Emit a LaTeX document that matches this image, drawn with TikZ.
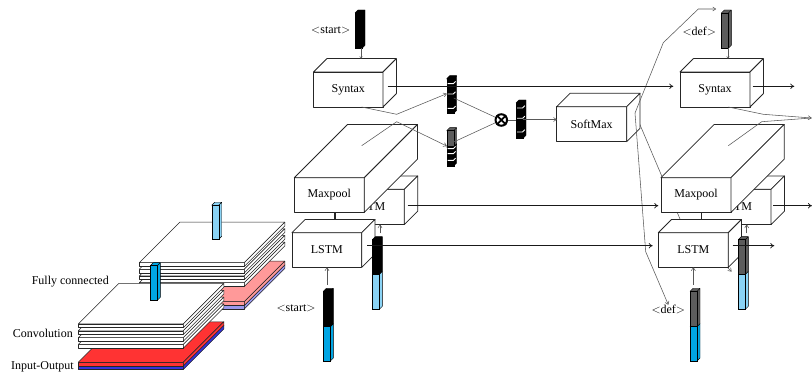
\documentclass[tikz,border=0pt]{standalone}
\usepackage{fontspec}
\setmainfont{Liberation Serif}
\usetikzlibrary{arrows.meta,calc}
\definecolor{cdark}{HTML}{00A5E3}
\definecolor{clight}{HTML}{8AD3F5}
\definecolor{cgray}{HTML}{5C5C5C}
\definecolor{cred}{HTML}{FF3333}
\definecolor{cblue}{HTML}{3333DD}
\definecolor{cpink}{HTML}{FF9999}
\definecolor{cperi}{HTML}{9999EE}
\tikzset{
  edge/.style={draw=black!85,line width=0.75pt,line join=round},
  plateedge/.style={draw=black!85,line width=0.5pt,line join=round},
  cubefront/.style={edge,fill=white,rectangle,inner sep=0pt,outer sep=0pt,font=\fontsize{12}{12}\selectfont},
  barfront/.style={draw=black,line width=0.4pt,rectangle,inner sep=0pt,outer sep=0pt,minimum width=7pt},
  wire/.style={draw=black!65,line width=0.55pt,-{To[length=3.5pt,width=4.5pt]}},
  wirefree/.style={draw=black!65,line width=0.55pt},
  flow/.style={draw=black!90,line width=0.7pt,-{To[length=4pt,width=5.5pt]}},
  lbl/.style={font=\fontsize{12}{12}\selectfont,inner sep=0pt},
}
% name, x, y, w, h, depth, text
\newcommand\cubebox[7]{%
  \node[cubefront,minimum width=#4pt,minimum height=#5pt] (#1) at ({#2+#4/2},{#3+#5/2}) {#7};
  \draw[edge,fill=white] (#1.north west) -- ++(#6,-#6) -- ++(#4,0) -- (#1.north east) -- cycle;
  \draw[edge,fill=white] (#1.north east) -- ++(#6,-#6) -- ++(0,#5) -- (#1.south east) -- cycle;
}
% name, x, ytop, h, colour
\newcommand\vecbar[5]{%
  \fill[#5] (#2,#3+3) -- ++(3,-3) -- ++(7,0) -- ++(0,#4-3) -- ++(-3,3) -- cycle;
  \draw[line width=0.4pt,black,line join=round] (#2,#3+3) -- ++(3,-3) -- ++(7,0) -- ++(0,#4-3) -- ++(-3,3) (#2+7,#3+3) -- ++(3,-3);
  \node[barfront,fill=#5,minimum height={(#4-3)*1pt}] (#1) at (#2+3.5,{#3+3+(#4-3)/2}) {};
}
% x, y, fill : one plate of a stack, 105 wide, 3.7 thick, depth 40
\newcommand\plate[3]{%
  \draw[plateedge,fill=#3] (#1,#2) -- ++(105,0) -- ++(0,3.7) -- ++(-105,0) -- cycle;
  \draw[plateedge,fill=#3] (#1,#2) -- ++(40.5,-40.5) -- ++(105,0) -- ++(-40.5,40.5) -- cycle;
  \draw[plateedge,fill=#3] (#1+105,#2) -- ++(40.5,-40.5) -- ++(0,3.7) -- ++(-40.5,40.5) -- cycle;
}
\newcommand\dashes[3]{% bar x, ytop, list of offsets
  \foreach \o in {#3} {\draw[white,line width=0.9pt] (#1+1,#2+\o) -- (#1+6.6,#2+\o) -- ++(2.2,-2.2);}
}
\begin{document}
\begin{tikzpicture}[x=1pt,y=-1pt]
\useasboundingbox (0,0) rectangle (812,374);
\fill[white] (0,0) rectangle (812,374);
% stacks
\plate{139.3}{305.3}{cperi}
\plate{139.3}{301.7}{cpink}
\plate{139.3}{282.7}{white}
\plate{139.3}{276}{white}
\plate{139.3}{269.3}{white}
\plate{139.3}{262.7}{white}
\plate{78.3}{365.8}{cblue}
\plate{78.3}{362.3}{cred}
\plate{78.3}{344.4}{white}
\plate{78.3}{337.6}{white}
\plate{78.3}{330.8}{white}
\plate{78.3}{324}{white}
\vecbar{fcup}{211.7}{202.3}{37}{clight}
\vecbar{fclo}{150.3}{262.7}{37.6}{cdark}
\node[lbl,anchor=east] (fc) at (109,282) {Fully connected};
\node[lbl,anchor=east] (cv) at (73,333.5) {Convolution};
\node[lbl,anchor=east] (io) at (74,366.5) {Input-Output};
% hidden soft-max line
\coordinate (smc) at (635,113);
\coordinate (b1) at (680,219);
\coordinate (b1e) at (731.5,271.5);
\draw[wire] (smc) -- (b1) -- (b1e);
% left column
\cubebox{lstmb1}{334.3}{189.3}{70}{35.3}{13.4}{LSTM}
\cubebox{syn1}{313.5}{72}{69.5}{35}{13.4}{Syntax}
\draw[edge] (335,212) -- (335,220);
\cubebox{mp1}{294.3}{177.7}{70}{34.7}{53.3}{Maxpool}
\cubebox{lstm1}{292}{232.7}{69.7}{34.7}{13.3}{LSTM}
% soft-max
\cubebox{sm}{556.7}{106.7}{70}{35}{13.4}{SoftMax}
% right column
\cubebox{lstmb2}{701}{189.3}{70}{35.3}{13.4}{LSTM}
\cubebox{syn2}{680}{72}{70}{35}{13.4}{Syntax}
\draw[edge] (701,212) -- (701,220);
\cubebox{mp2}{661}{177.7}{70}{34.7}{53.3}{Maxpool}
\cubebox{lstm2}{658.3}{232.7}{70}{34.7}{13.3}{LSTM}
% vectors
\vecbar{s1}{355}{10}{38.3}{black}
\vecbar{d1}{721.3}{10}{38.3}{cgray}
\vecbar{blo}{323.3}{323.7}{37.3}{cdark}
\vecbar{bup}{323.3}{288.3}{38.4}{black}
\vecbar{clo}{372.3}{271.3}{38}{clight}
\vecbar{cup}{372.3}{236.7}{37.6}{black}
\vecbar{dlo}{690}{323.7}{37.3}{cdark}
\vecbar{dup}{690}{288.3}{38.4}{cgray}
\vecbar{elo}{738.3}{271.3}{38}{clight}
\vecbar{eup}{738.3}{236.7}{37.6}{cgray}
% attention vectors
\vecbar{a1}{446.7}{75.7}{37.7}{black}
\dashes{446.7}{75.7}{8,18.3,32.7}
\vecbar{a2lo}{446.7}{144}{22}{black}
\vecbar{a2}{446.7}{127.7}{19}{cgray}
\dashes{446.7}{127.7}{21,26,32.7}
\vecbar{a3}{516}{100}{38.3}{black}
\dashes{516}{100}{8,18.3,32}
\node[circle,draw=black,line width=2pt,fill=white,minimum size=11.5pt,inner sep=0pt] (ot) at (501.3,120) {};
\draw[black,line width=1.7pt] (ot.north west) -- (ot.south east) (ot.north east) -- (ot.south west);
% labels
\node[lbl] (ls1) at (330.7,30.7) {$<$start$>$};
\node[lbl] (ls2) at (296,308.7) {$<$start$>$};
\node[lbl] (ld1) at (699.3,31) {$<$def$>$};
\node[lbl] (ld2) at (668.3,309.3) {$<$def$>$};
% attention wiring
\coordinate (s1o) at (361.7,107);
\coordinate (s1m) at (396.7,114.3);
\coordinate (m1o) at (361.7,145.7);
\coordinate (m1m) at (396.7,121.7);
\draw[wire] (s1o) -- (s1m) -- (a1.west |- 0,93.7);
\draw[wire] (m1o) -- (m1m) -- (a2.west |- 0,146);
\draw[wirefree] (a1.east |- 0,98) -- (ot);
\draw[wirefree] (a2.east |- 0,142) -- (ot);
\draw[wirefree] (ot) -- (a3.west |- ot);
\draw[wire] (a3.east |- 0,119.5) -- (sm.west |- 0,119.5);
% soft-max outputs
\coordinate (o1a) at (663.3,42.7);
\coordinate (o1b) at (698.3,9);
\coordinate (o1c) at (716,9);
\draw[wire] (smc) -- (o1a) -- (o1b) -- (o1c);
\coordinate (o2a) at (645.7,251.7);
\draw[wire] (smc) -- (o2a) -- (ld2.north);
\coordinate (s2o) at (728.3,107);
\coordinate (s2m) at (763.3,114.3);
\coordinate (s2e) at (811.5,118);
\coordinate (m2o) at (728.3,145.7);
\coordinate (m2m) at (761.7,121.7);
\draw[wire] (s2o) -- (s2m) -- (s2e);
\draw[wirefree] (m2o) -- (m2m) -- (s2e);
% vertical feeds
\draw[wirefree,-{To[length=2.5pt,width=3pt]}] (361,48.3) -- (361,58.7);
\draw[wirefree,-{To[length=2.5pt,width=3pt]}] (728,48.3) -- (728,58.7);
\draw[wire] (327,285) -- (lstm1.south -| 327,0);
\draw[wire] (380,233.5) -- (380,224.6);
\draw[wire] (693.3,285) -- (693.3,267.4);
\draw[wire] (746.7,233.5) -- (746.7,224.6);
% main flows
\draw[flow] (387.7,86.3) -- (673.3,86.3);
\draw[flow] (752.7,86.3) -- (794.3,86.3);
\draw[flow] (407.7,205.7) -- (658.3,205.7);
\draw[flow] (773.3,205.7) -- (812,205.7);
\draw[flow] (367.3,245.7) -- (652.7,245.7);
\draw[flow] (732.7,245.7) -- (774.3,245.7);
\end{tikzpicture}
\end{document}
